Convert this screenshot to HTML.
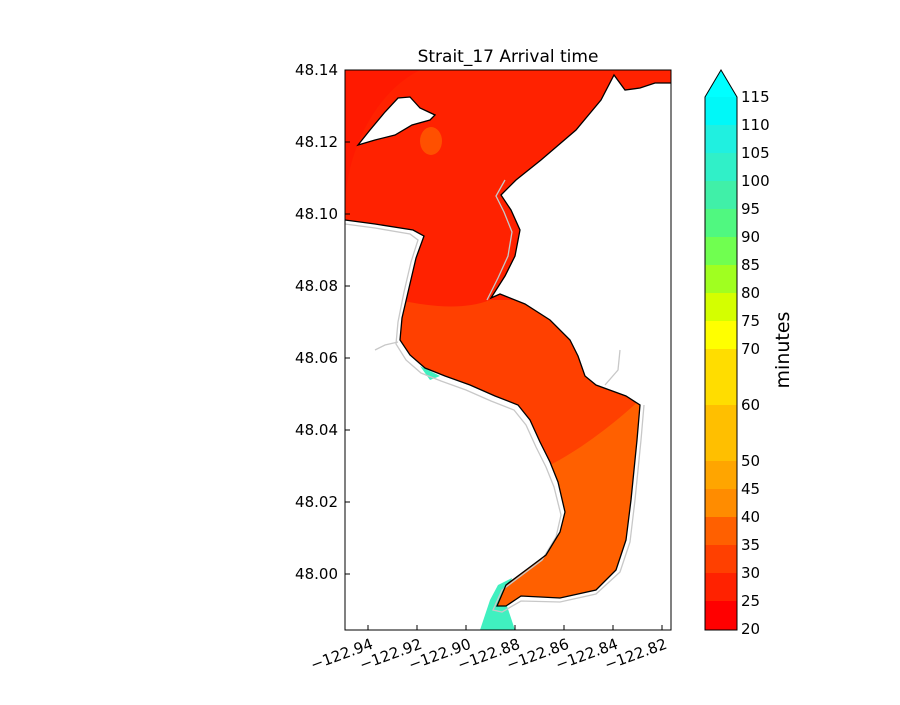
<!DOCTYPE html>
<html><head><meta charset="utf-8"><style>
body{margin:0;background:#fff;}
svg text{font-family:"DejaVu Sans","Liberation Sans",sans-serif;}
</style></head><body>
<svg width="900" height="700" viewBox="0 0 900 700" xmlns="http://www.w3.org/2000/svg">
<rect width="900" height="700" fill="#fff"/>
<defs>
<clipPath id="plot"><rect x="345" y="70" width="326" height="560"/></clipPath>
<clipPath id="water"><path d="M345,70 L345,220 L375,224 L413,230 L424,236 L416,258 L409,288 L402,318 L400,340 L410,355 L425,368 L445,376 L470,385 L495,396 L518,405 L530,420 L540,442 L550,462 L558,482 L565,512 L560,532 L546,555 L526,570 L506,585 L497,606 L506,606 L521,596 L560,598 L596,590 L616,570 L626,540 L631,500 L637,440 L640,405 L626,396 L596,385 L585,376 L578,356 L570,340 L550,320 L525,304 L500,294 L491,298 L505,276 L515,256 L520,230 L511,210 L501,195 L516,180 L541,160 L576,130 L601,100 L614,75 L625,90 L640,88 L655,83 L671,83 L671,70 Z"/></clipPath>
</defs>
<g clip-path="url(#plot)">
 <path d="M480,630 L490,600 L498,585 L512,578 L505,600 L515,630 Z" fill="#40f0c0"/>
 <path d="M420,366 L440,376 L430,380 Z" fill="#40f0c0"/>
 <path d="M620,520 L628,520 L625,540 Z" fill="#40f0c0"/>
 <g clip-path="url(#water)">
  <rect x="345" y="70" width="326" height="560" fill="#ff2200"/>
  <path d="M345,70 L345,200 C350,140 380,90 420,70 Z" fill="#ff1a00"/>
  <path d="M390,298 C420,305 460,312 490,300 L671,300 L671,630 L345,630 Z" fill="#ff4000"/>
  <path d="M550,465 C580,450 620,420 650,390 L671,390 L671,630 L345,630 L345,600 Z" fill="#ff6000"/>
 </g>
 <path d="M345,224 L375,228 L410,234 L418,240 L411,262 L404,292 L398,322 L396,344 L406,360 L421,373 L441,381 L466,390 L491,401 L514,410 L526,425 L536,447 L546,467 L554,487 L561,515 L556,537 L542,560 L522,575 L502,590 L493,610 L502,612 L521,601 L560,602 L596,594 L620,572 L630,542 L635,500 L641,440 L644,405" fill="none" stroke="#c8c8c8" stroke-width="1.3"/>
 <path d="M505,180 L496,196 L504,212 L512,232 L508,256 L498,278 L487,300" fill="none" stroke="#c8c8c8" stroke-width="1.3"/>
 <path d="M345,220 L375,224 L413,230 L424,236 L416,258 L409,288 L402,318 L400,340 L410,355 L425,368 L445,376 L470,385 L495,396 L518,405 L530,420 L540,442 L550,462 L558,482 L565,512 L560,532 L546,555 L526,570 L506,585 L497,606 L506,606 L521,596 L560,598 L596,590 L616,570 L626,540 L631,500 L637,440 L640,405 L626,396 L596,385 L585,376 L578,356 L570,340 L550,320 L525,304 L500,294 L491,298 L505,276 L515,256 L520,230 L511,210 L501,195 L516,180 L541,160 L576,130 L601,100 L614,75 L625,90 L640,88 L655,83 L671,83" fill="none" stroke="#000" stroke-width="1.3"/>
 <path d="M358,145 L370,130 L385,112 L398,98 L410,97 L420,108 L435,115 L430,120 L412,125 L395,135 L375,140 Z" fill="#fff" stroke="#000" stroke-width="1.3"/>
 <ellipse cx="431" cy="141" rx="11" ry="14" fill="#ff5000"/>
 <path d="M375,350 L385,345 L398,342" fill="none" stroke="#c8c8c8" stroke-width="1.3"/>
 <path d="M605,385 L618,370 L620,350" fill="none" stroke="#c8c8c8" stroke-width="1.3"/>
</g>
<rect x="345" y="70" width="326" height="560" fill="none" stroke="#000" stroke-width="1"/>
<text x="508" y="62" font-size="17" text-anchor="middle">Strait_17 Arrival time</text>
<g font-size="15" text-anchor="end">
<text x="338" y="75">48.14</text><text x="338" y="147">48.12</text><text x="338" y="219">48.10</text><text x="338" y="291">48.08</text><text x="338" y="363">48.06</text><text x="338" y="435">48.04</text><text x="338" y="507">48.02</text><text x="338" y="579">48.00</text>
</g>
<g stroke="#000">
<line x1="345" y1="142" x2="350" y2="142"/><line x1="345" y1="214" x2="350" y2="214"/><line x1="345" y1="286" x2="350" y2="286"/><line x1="345" y1="358" x2="350" y2="358"/><line x1="345" y1="430" x2="350" y2="430"/><line x1="345" y1="502" x2="350" y2="502"/><line x1="345" y1="574" x2="350" y2="574"/>
<line x1="368" y1="630" x2="368" y2="625"/><line x1="417" y1="630" x2="417" y2="625"/><line x1="466" y1="630" x2="466" y2="625"/><line x1="515" y1="630" x2="515" y2="625"/><line x1="564" y1="630" x2="564" y2="625"/><line x1="613" y1="630" x2="613" y2="625"/><line x1="662" y1="630" x2="662" y2="625"/>
</g>
<g font-size="15" text-anchor="end">
<text transform="translate(374,648) rotate(-20)">−122.94</text>
<text transform="translate(423,648) rotate(-20)">−122.92</text>
<text transform="translate(472,648) rotate(-20)">−122.90</text>
<text transform="translate(521,648) rotate(-20)">−122.88</text>
<text transform="translate(570,648) rotate(-20)">−122.86</text>
<text transform="translate(619,648) rotate(-20)">−122.84</text>
<text transform="translate(668,648) rotate(-20)">−122.82</text>
</g>
<g>
<rect x="705" y="601" width="32" height="29" fill="#ff0000"/>
<rect x="705" y="573" width="32" height="28" fill="#ff2200"/>
<rect x="705" y="545" width="32" height="28" fill="#ff4000"/>
<rect x="705" y="517" width="32" height="28" fill="#ff6000"/>
<rect x="705" y="489" width="32" height="28" fill="#ff8c00"/>
<rect x="705" y="461" width="32" height="28" fill="#ffa500"/>
<rect x="705" y="405" width="32" height="56" fill="#ffbf00"/>
<rect x="705" y="349" width="32" height="56" fill="#ffdd00"/>
<rect x="705" y="321" width="32" height="28" fill="#ffff00"/>
<rect x="705" y="293" width="32" height="28" fill="#d4ff00"/>
<rect x="705" y="265" width="32" height="28" fill="#a0ff20"/>
<rect x="705" y="237" width="32" height="28" fill="#70ff50"/>
<rect x="705" y="209" width="32" height="28" fill="#50f880"/>
<rect x="705" y="181" width="32" height="28" fill="#40f0a8"/>
<rect x="705" y="153" width="32" height="28" fill="#30f0c8"/>
<rect x="705" y="125" width="32" height="28" fill="#20f0e0"/>
<rect x="705" y="97" width="32" height="28" fill="#00f8f8"/>
<path d="M705,97 L721,70 L737,97 Z" fill="#00ffff"/>
<path d="M705,97 L721,70 L737,97 L737,630 L705,630 Z" fill="none" stroke="#000"/>
</g>
<g font-size="15">
<text x="741" y="102">115</text><text x="741" y="130">110</text><text x="741" y="158">105</text><text x="741" y="186">100</text><text x="741" y="214">95</text><text x="741" y="242">90</text><text x="741" y="270">85</text><text x="741" y="298">80</text><text x="741" y="326">75</text><text x="741" y="354">70</text><text x="741" y="410">60</text><text x="741" y="466">50</text><text x="741" y="494">45</text><text x="741" y="522">40</text><text x="741" y="550">35</text><text x="741" y="578">30</text><text x="741" y="606">25</text><text x="741" y="634">20</text>
</g>
<text transform="translate(789,350) rotate(-90)" font-size="19" text-anchor="middle">minutes</text>
</svg>
</body></html>
